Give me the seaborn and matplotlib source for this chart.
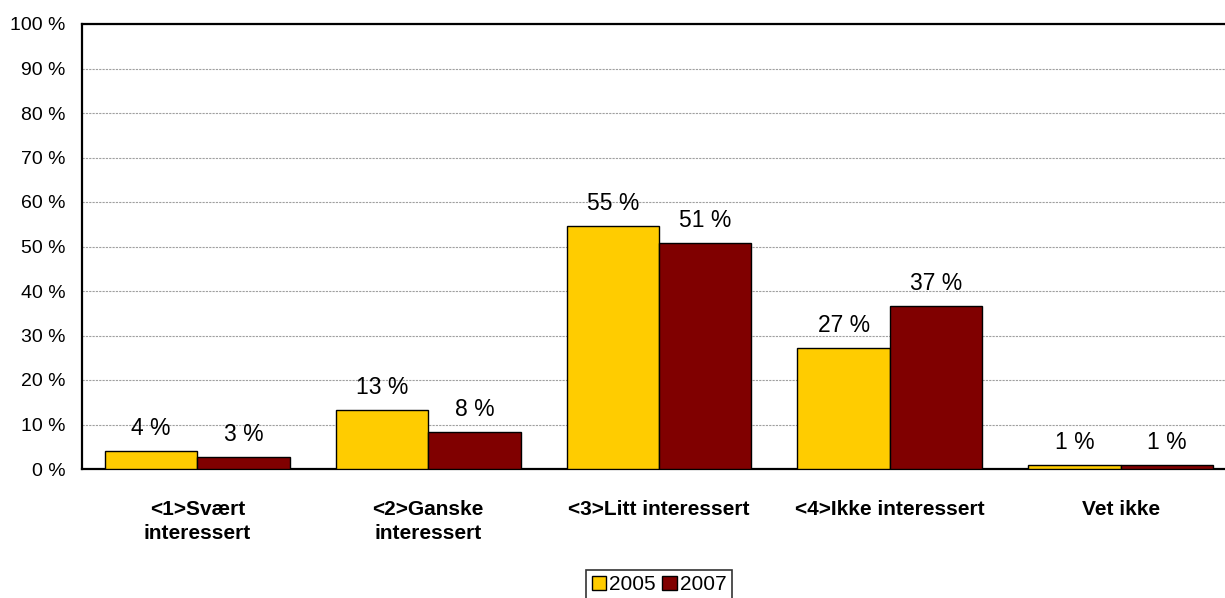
import matplotlib
matplotlib.use("Agg")
import matplotlib.pyplot as plt
import seaborn as sns
import pandas as pd

categories = ["<1>Svært\ninteressert", "<2>Ganske\ninteressert",
              "<3>Litt interessert", "<4>Ikke interessert", "Vet ikke"]
years = ["2005", "2007"]
share_2005 = [4.0, 13.3, 54.6, 27.2, 0.8]
share_2007 = [2.6, 8.4, 50.7, 36.6, 0.8]
y_ticks = [0, 10, 20, 30, 40, 50, 60, 70, 80, 90, 100]
colors = ["#FFCC00", "#800000"]

df = pd.DataFrame({
    "kategori": categories * 2,
    "år": [years[0]] * len(categories) + [years[1]] * len(categories),
    "andel": share_2005 + share_2007,
})

sns.set_style("white")
plt.rcParams["font.family"] = ["Liberation Sans", "DejaVu Sans"]
plt.rcParams["text.color"] = "black"
plt.rcParams["xtick.color"] = "black"
plt.rcParams["ytick.color"] = "black"
plt.rcParams["xtick.labelcolor"] = "black"
plt.rcParams["ytick.labelcolor"] = "black"

fig = plt.figure(figsize=(12.25, 5.98), dpi=100)
ax = fig.add_axes([82 / 1225, 129 / 598, 1 - 82 / 1225, (469 - 24) / 598])

sns.barplot(data=df, x="kategori", y="andel", hue="år", order=categories,
            hue_order=years, palette=colors, width=0.8, edgecolor="black",
            linewidth=1.0, saturation=1, ax=ax, legend=True, zorder=3)

# value labels above each bar
for container in ax.containers:
    for bar in container:
        h = bar.get_height()
        ax.annotate(f"{round(h)} %", (bar.get_x() + bar.get_width() / 2, h),
                    xytext=(0, 8), textcoords="offset points", color="black",
                    ha="center", va="bottom", fontsize=16.5, zorder=4)

ax.set_ylim(0, 100)
ax.set_xlim(-0.5, 4.5 - 11 / 230.7)
ax.set_yticks(y_ticks)
ax.set_yticklabels([f"{t} %" for t in y_ticks], fontsize=14, color="black")
ax.yaxis.grid(True, color="#a0a0a0", linestyle=(0, (2, 1)), linewidth=0.8, zorder=0)
ax.set_axisbelow(True)

# boundary tick marks between categories, labels centred on categories
ax.set_xticks([0.5, 1.5, 2.5, 3.5])
ax.set_xticklabels([])
ax.set_xticks(range(len(categories)), minor=True)
ax.set_xticklabels(categories, minor=True, fontsize=15, fontweight="bold",
                   linespacing=1.35, color="black")
ax.tick_params(axis="x", which="major", direction="out", length=6, width=1.2, color="black")
ax.tick_params(axis="x", which="minor", length=0, pad=22)
ax.tick_params(axis="y", direction="out", length=6, width=1.2, color="black", pad=6)

ax.set_xlabel("")
ax.set_ylabel("")
for side in ["left", "bottom", "top"]:
    ax.spines[side].set_visible(True)
    ax.spines[side].set_color("black")
    ax.spines[side].set_linewidth(1.6)
ax.spines["right"].set_visible(False)

handles, labels = ax.get_legend_handles_labels()
ax.get_legend().remove()
leg = fig.legend(handles, labels, loc="upper center",
                 bbox_to_anchor=(659 / 1225, 1 - 570 / 598), ncol=2,
                 fontsize=15, frameon=True, fancybox=False, edgecolor="black",
                 handlelength=0.7, handleheight=0.7, handletextpad=0.15,
                 columnspacing=0.3, borderpad=0.25, borderaxespad=0)
leg.get_frame().set_linewidth(1.2)
for t in leg.get_texts():
    t.set_color("black")

fig.savefig("out.png", dpi=100)
